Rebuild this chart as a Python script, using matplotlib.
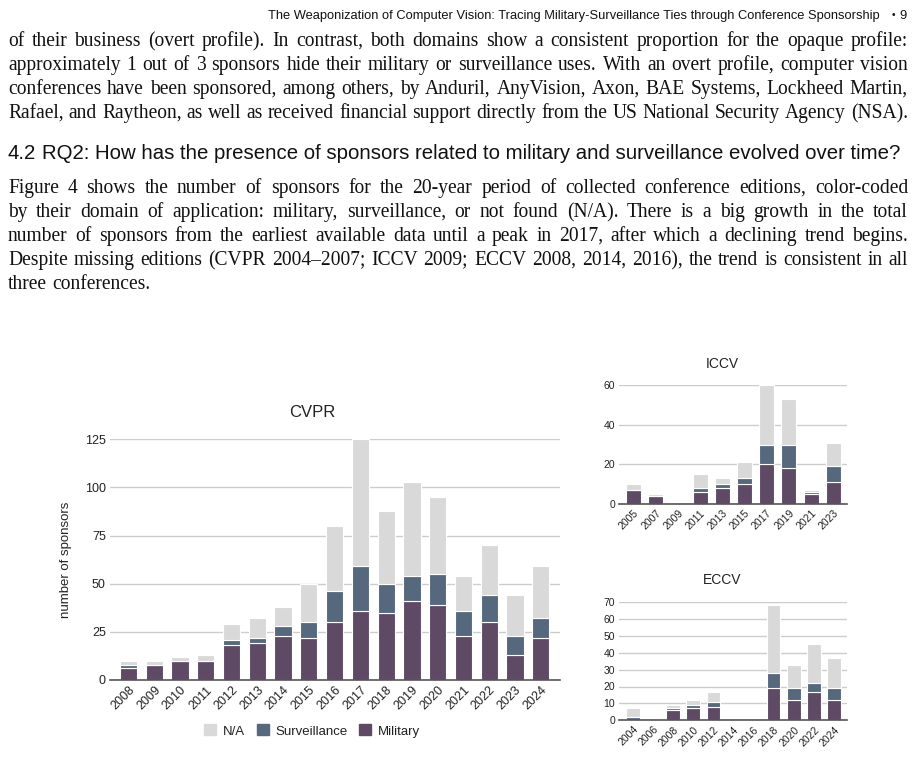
import math
import matplotlib
matplotlib.use("Agg")
import matplotlib.pyplot as plt
import matplotlib.patches as mpatches
from matplotlib.font_manager import FontProperties
from matplotlib.backends.backend_agg import get_hinting_flag

# ---- data ----
cvpr_years = [str(y) for y in range(2008, 2025)]
cvpr_military = [6, 8, 10, 10, 18, 19, 23, 22, 30, 36, 35, 41, 39, 23, 30, 13, 22]
cvpr_surveillance = [2, 0, 0, 0, 3, 3, 5, 8, 16, 23, 15, 13, 16, 13, 14, 10, 10]
cvpr_na = [2, 2, 2, 3, 8, 10, 10, 20, 34, 66, 38, 49, 40, 18, 26, 21, 27]

iccv_years = [str(y) for y in range(2005, 2024, 2)]
iccv_military = [7, 4, 0, 6, 8, 10, 20, 18, 5, 11]
iccv_surveillance = [0, 0, 0, 2, 2, 3, 10, 12, 1, 8]
iccv_na = [3, 1, 0, 7, 3, 8, 30, 23, 1, 12]

eccv_years = [str(y) for y in range(2004, 2025, 2)]
eccv_military = [0, 0, 6, 7, 8, 0, 0, 19, 12, 17, 12]
eccv_surveillance = [2, 0, 1, 2, 3, 0, 0, 9, 7, 5, 7]
eccv_na = [5, 0, 2, 3, 6, 0, 0, 40, 14, 23, 18]

header_text = ("The Weaponization of Computer Vision: Tracing Military-Surveillance "
               "Ties through Conference Sponsorship")
para1 = [
    "of their business (overt profile). In contrast, both domains show a consistent proportion for the opaque profile:",
    "approximately 1 out of 3 sponsors hide their military or surveillance uses. With an overt profile, computer vision",
    "conferences have been sponsored, among others, by Anduril, AnyVision, Axon, BAE Systems, Lockheed Martin,",
    "Rafael, and Raytheon, as well as received financial support directly from the US National Security Agency (NSA).",
]
heading = "RQ2: How has the presence of sponsors related to military and surveillance evolved over time?"
para2 = [
    "Figure 4 shows the number of sponsors for the 20-year period of collected conference editions, color-coded",
    "by their domain of application: military, surveillance, or not found (N/A). There is a big growth in the total",
    "number of sponsors from the earliest available data until a peak in 2017, after which a declining trend begins.",
    "Despite missing editions (CVPR 2004\u20132007; ICCV 2009; ECCV 2008, 2014, 2016), the trend is consistent in all",
    "three conferences.",
]

MIL = "#5e4a65"
SURV = "#56687e"
NA = "#d9d9d9"
INK = "#111111"

W, H = 916, 757
fig = plt.figure(figsize=(W / 100, H / 100), dpi=100)
renderer = fig.canvas.get_renderer()

SERIF = "Liberation Serif"
SANS = "Liberation Sans"


def fx(x):
    return x / W


def fy(y):
    return 1 - y / H


def text_width(s, size, family):
    t = fig.text(0, 0, s, fontsize=size, family=family)
    w = t.get_window_extent(renderer).width
    t.remove()
    return w


def fit_size(s, width, family, start=14.0):
    return start * width / text_width(s, start, family)


# header
hsize = fit_size(header_text, 612, SANS, 10)
fig.text(fx(880), fy(19), header_text, fontsize=hsize, family=SANS, ha="right", va="baseline", color=INK)
fig.text(fx(893), fy(18), "\u2022", fontsize=hsize * 0.8, family=SANS, ha="center", va="baseline", color=INK)
fig.text(fx(907), fy(19), "9", fontsize=hsize, family=SANS, ha="right", va="baseline", color=INK)

# body text size: biggest that lets every full line fit
body_size = 14.5
widest = max(text_width(s, body_size, SERIF) for s in para1 + para2[:-1])
if widest > 897:
    body_size = body_size * 897 / widest
body_prop = FontProperties(family=SERIF, size=body_size)


def baseline_shift(w):
    # agg places each word's glyph bitmap with some integer rounding, which makes
    # single words hop by a pixel; work out that hop so it can be undone
    try:
        font = renderer._prepare_font(body_prop)
        font.set_text(w, 0, flags=get_hinting_flag())
        h64 = font.get_width_height()[1]
        d64 = font.get_descent()
        return round(d64 / 64) + math.floor((h64 - d64) / 64) - h64 // 64
    except Exception:
        return 0


def put_word(x, ybase, w):
    yd = H - ybase + baseline_shift(w)
    fig.text(fx(x), yd / H, w, fontproperties=body_prop, va="baseline", color=INK)


def justify(line, ybase, x0=8, x1=908, full=True):
    words = line.split(" ")
    widths = [text_width(w, body_size, SERIF) for w in words]
    if full:
        gap = (x1 - x0 - sum(widths)) / (len(words) - 1)
    else:
        gap = text_width("a a", body_size, SERIF) - text_width("aa", body_size, SERIF)
    x = x0
    for w, wd in zip(words, widths):
        put_word(x, ybase, w)
        x += wd + gap


for i, line in enumerate(para1):
    justify(line, 46 + 24 * i)

hd_size = fit_size(heading, 864, SANS, 14)
fig.text(fx(8), fy(159), "4.2", fontsize=hd_size, family=SANS, va="baseline", color=INK)
fig.text(fx(42), fy(159), heading, fontsize=hd_size, family=SANS, va="baseline", color=INK)

for i, line in enumerate(para2):
    justify(line, 193 + 24 * i, full=(i < len(para2) - 1))


# ---- charts ----
def stacked(ax, years, mil, surv, na, ymax, ystep, tick_size, xlim):
    x = range(len(years))
    bot2 = [m + s for m, s in zip(mil, surv)]
    ax.bar(x, mil, width=0.67, color=MIL, edgecolor="white", linewidth=0.8, zorder=2)
    ax.bar(x, surv, width=0.67, bottom=mil, color=SURV, edgecolor="white", linewidth=0.8, zorder=2)
    ax.bar(x, na, width=0.67, bottom=bot2, color=NA, edgecolor="white", linewidth=0.8, zorder=2)
    ax.set_xlim(*xlim)
    ax.set_ylim(0, ymax)
    ax.set_yticks(range(0, ymax + 1, ystep))
    ax.set_xticks(list(x))
    ax.set_xticklabels(years, rotation=45, ha="right", rotation_mode="anchor")
    ax.tick_params(length=0, labelsize=tick_size, colors="#222222", pad=3)
    for lab in ax.get_xticklabels() + ax.get_yticklabels():
        lab.set_family(SANS)
    ax.yaxis.grid(True, color="#cccccc", linewidth=1.0, zorder=0)
    ax.set_axisbelow(True)
    for sp in ["top", "right", "left"]:
        ax.spines[sp].set_visible(False)
    ax.spines["bottom"].set_color("#555555")
    ax.spines["bottom"].set_linewidth(1.2)
    ax.spines["bottom"].set_zorder(3)
    for b in ax.patches:
        b.set_clip_on(False)


ax1 = fig.add_axes([fx(110), fy(680), fx(560) - fx(110), (680 - 439.3) / H])
stacked(ax1, cvpr_years, cvpr_military, cvpr_surveillance, cvpr_na, 125, 25, 9, (-0.72, 16.75))
fig.text(fx(312), fy(412), "CVPR", fontsize=12, family=SANS, ha="center", va="center", color="#222222")
fig.text(fx(66), fy(560), "number of sponsors", fontsize=9.5, family=SANS, rotation=90,
         ha="center", va="center", color="#222222")

ax2 = fig.add_axes([fx(619.3), fy(504), fx(847.3) - fx(619.3), (504 - 385.3) / H])
stacked(ax2, iccv_years, iccv_military, iccv_surveillance, iccv_na, 60, 20, 7.5, (-0.64, 9.63))
fig.text(fx(722), fy(364), "ICCV", fontsize=10, family=SANS, ha="center", va="center", color="#222222")

ax3 = fig.add_axes([fx(619.3), fy(720.3), fx(847.3) - fx(619.3), (720.3 - 602) / H])
stacked(ax3, eccv_years, eccv_military, eccv_surveillance, eccv_na, 70, 10, 7.5, (-0.67, 10.66))
fig.text(fx(722), fy(580), "ECCV", fontsize=10, family=SANS, ha="center", va="center", color="#222222")

handles = [mpatches.Patch(color=NA, label="N/A"),
           mpatches.Patch(color=SURV, label="Surveillance"),
           mpatches.Patch(color=MIL, label="Military")]
leg = fig.legend(handles=handles, loc="center", bbox_to_anchor=(fx(312), fy(731)), ncol=3,
                 frameon=False, handlelength=0.9, handleheight=0.9, handletextpad=0.5,
                 columnspacing=0.9, prop={"family": SANS, "size": 9.5})
for t in leg.get_texts():
    t.set_color("#222222")

fig.savefig("out.png", dpi=100)
